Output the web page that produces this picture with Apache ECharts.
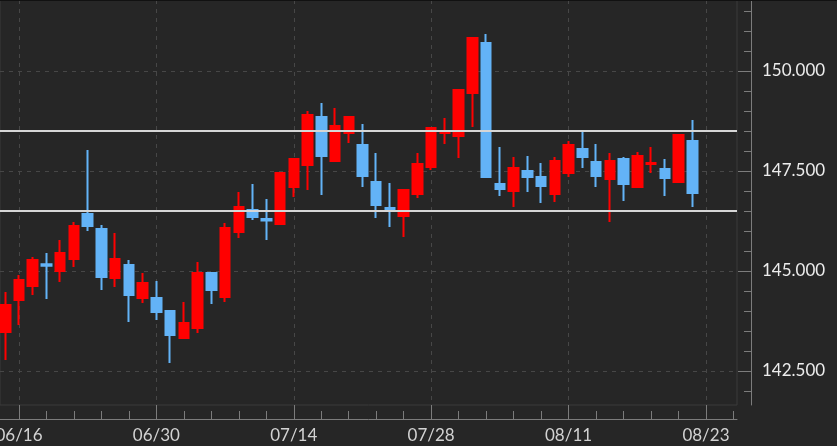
<!DOCTYPE html>
<html><head><meta charset="utf-8">
<script src="https://cdn.jsdelivr.net/npm/echarts@6/dist/echarts.min.js"></script>
<style>html,body{margin:0;padding:0;background:#262626;}#wrap{position:relative;width:837px;height:446px;}#c{width:837px;height:446px;}#topline{position:absolute;left:0;top:0;width:837px;height:1px;background:#111;z-index:2;}</style>
</head><body><div id="wrap"><div id="c"></div><div id="topline"></div></div>
<script>
const dates = ['06/13','06/16','06/17','06/18','06/19','06/20','06/23','06/24','06/25','06/26','06/27',
  '06/30','07/01','07/02','07/03','07/04','07/07','07/08','07/09','07/10','07/11',
  '07/14','07/15','07/16','07/17','07/18','07/21','07/22','07/23','07/24','07/25',
  '07/28','07/29','07/30','07/31','08/01','08/04','08/05','08/06','08/07','08/08',
  '08/11','08/12','08/13','08/14','08/15','08/18','08/19','08/20','08/21','08/22','08/23','',''];
const openV = [143.475,144.275,144.625,145.17,145.0,145.3,146.425,146.05,144.825,145.15,144.325,
  144.325,144.0,143.325,143.575,144.95,144.35,145.975,146.525,146.3,146.175,
  147.1,147.65,148.85,147.75,148.45,148.15,147.225,146.575,146.375,146.925,
  147.6,148.45,148.375,149.45,150.7,147.175,147.0,147.5,147.35,146.925,
  147.45,148.05,147.725,147.3,147.8,147.1,147.675,147.55,147.225,148.25];
const closeV = [144.15,144.775,145.275,145.13,145.45,146.125,146.125,144.85,145.3,144.4,144.7,
  143.975,143.4,143.7,144.95,144.525,146.075,146.6,146.35,146.26,147.45,
  147.8,148.9,147.875,148.625,148.85,147.375,146.65,146.54,147.025,147.675,
  148.575,148.49,149.525,150.825,147.35,147.05,147.575,147.35,147.125,147.75,
  148.15,147.85,147.375,147.75,147.175,147.875,147.7,147.325,148.4,146.95];
const lowV = [142.775,143.65,144.4,144.3,144.725,145.1,146.0,144.525,144.6,143.725,144.2,
  143.775,142.7,143.3,143.45,144.175,144.225,145.825,146.275,145.775,146.15,
  146.85,147.025,146.9,147.725,148.2,147.1,146.325,146.1,145.85,146.825,
  147.525,148.175,147.825,148.6,147.325,146.875,146.6,146.975,146.7,146.725,
  147.35,147.575,147.1,146.225,146.75,147.1,147.45,146.875,147.22,146.6];
const highV = [144.475,144.9,145.35,145.45,145.775,146.225,148.025,146.15,145.95,145.275,144.95,
  144.75,144.02,144.225,145.225,144.975,146.2,146.975,147.175,146.8,147.475,
  147.825,149.0,149.2,149.075,148.87,148.675,147.95,147.2,147.03,147.95,
  148.6,148.825,149.53,150.83,150.925,148.1,147.85,147.875,147.7,147.85,
  148.25,148.475,148.175,147.95,147.85,147.975,148.1,147.8,148.4,148.775];
const levels = [148.5, 146.5];
const yLabelValues = [142.5, 145, 147.5, 150];
const yMinorValues = [142, 142.5, 143, 143.5, 144, 144.5, 145, 145.5, 146, 146.5, 147, 147.5, 148, 148.5, 149, 149.5, 150, 150.5, 151, 151.5];
const xMajorIdx = [1, 11, 21, 31, 41, 51];
const xMinorIdx = [3,5,7,9,13,15,17,19,23,25,27,29,33,35,37,39,43,45,47,49,53];

const candleData = openV.map((o, i) => [o, closeV[i], lowV[i], highV[i]]);
const UP = '#ff0000', DOWN = '#63b3f7';
const axisCol = '#7c7c7c', gridCol = '#474747';
const FONT = 'Lato';
const Y_MIN = 141.65, Y_MAX = 151.775;
const X_MIN = -0.383, X_MAX = 53.26;
const BAND = 13.74;

const plotW = 737;
const cl = -(X_MIN * BAND) - BAND / 2; // pixel left of band 0
const candleRight = 837 - (cl + dates.length * BAND);
const gridCommon = {top: 0, bottom: 41, outerBoundsMode: 'none', containLabel: false};

const chart = echarts.init(document.getElementById('c'), null, {renderer: 'canvas'});
chart.setOption({
  animation: false,
  backgroundColor: '#262626',
  grid: [
    Object.assign({left: cl, right: candleRight, show: false}, gridCommon),
    Object.assign({left: 0, right: 837 - plotW, show: true, borderColor: '#3a3a3a', borderWidth: 1, backgroundColor: 'transparent'}, gridCommon),
    Object.assign({left: 0, right: 837 - plotW, show: false}, gridCommon)
  ],
  xAxis: [
    {type: 'category', gridIndex: 0, data: dates, boundaryGap: true, show: false},
    {type: 'value', gridIndex: 1, min: X_MIN, max: X_MAX, position: 'bottom', offset: 14,
     axisLine: {show: true, onZero: false, lineStyle: {color: axisCol, width: 1}},
     axisTick: {show: true, inside: true, length: 14, customValues: xMajorIdx, lineStyle: {color: axisCol}},
     axisLabel: {show: true, customValues: xMajorIdx, formatter: v => dates[Math.round(v)] || '', color: '#d2d2d2', fontFamily: FONT, fontSize: 17, margin: 8},
     splitLine: {show: true, lineStyle: {color: gridCol, type: [4, 5]}}},
    {type: 'value', gridIndex: 2, min: X_MIN, max: X_MAX, position: 'bottom', offset: 14,
     axisLine: {show: false, onZero: false},
     axisTick: {show: true, inside: true, length: 8, customValues: xMinorIdx, lineStyle: {color: axisCol}},
     axisLabel: {show: false},
     splitLine: {show: false}}
  ],
  yAxis: [
    {type: 'value', gridIndex: 0, min: Y_MIN, max: Y_MAX, show: false, axisLine: {onZero: false}, splitLine: {show: false}},
    {type: 'value', gridIndex: 1, min: Y_MIN, max: Y_MAX, position: 'right', offset: 14,
     axisLine: {show: true, onZero: false, lineStyle: {color: axisCol, width: 1}},
     axisTick: {show: true, inside: true, length: 13, customValues: yLabelValues, lineStyle: {color: axisCol}},
     axisLabel: {show: true, customValues: yLabelValues, formatter: v => v.toFixed(3), color: '#ececec', fontFamily: FONT, fontSize: 17, margin: 11},
     splitLine: {show: true, lineStyle: {color: gridCol, type: [4, 5]}}},
    {type: 'value', gridIndex: 2, min: Y_MIN, max: Y_MAX, position: 'right', offset: 14,
     axisLine: {show: false, onZero: false},
     axisTick: {show: true, inside: true, length: 7, customValues: yMinorValues, lineStyle: {color: axisCol}},
     axisLabel: {show: false},
     splitLine: {show: false}}
  ],
  series: [
    {
      type: 'candlestick',
      xAxisIndex: 0, yAxisIndex: 0,
      data: candleData,
      barWidth: 10,
      itemStyle: {color: UP, color0: DOWN, borderColor: UP, borderColor0: DOWN, borderWidth: 2}
    },
    {
      type: 'line', xAxisIndex: 1, yAxisIndex: 1, data: [], silent: true,
      markLine: {
        silent: true, symbol: 'none', animation: false,
        label: {show: false},
        lineStyle: {color: '#d6d6d6', width: 2, type: 'solid'},
        data: levels.map(v => ({yAxis: v}))
      }
    }
  ]
});
</script>
</body></html>
